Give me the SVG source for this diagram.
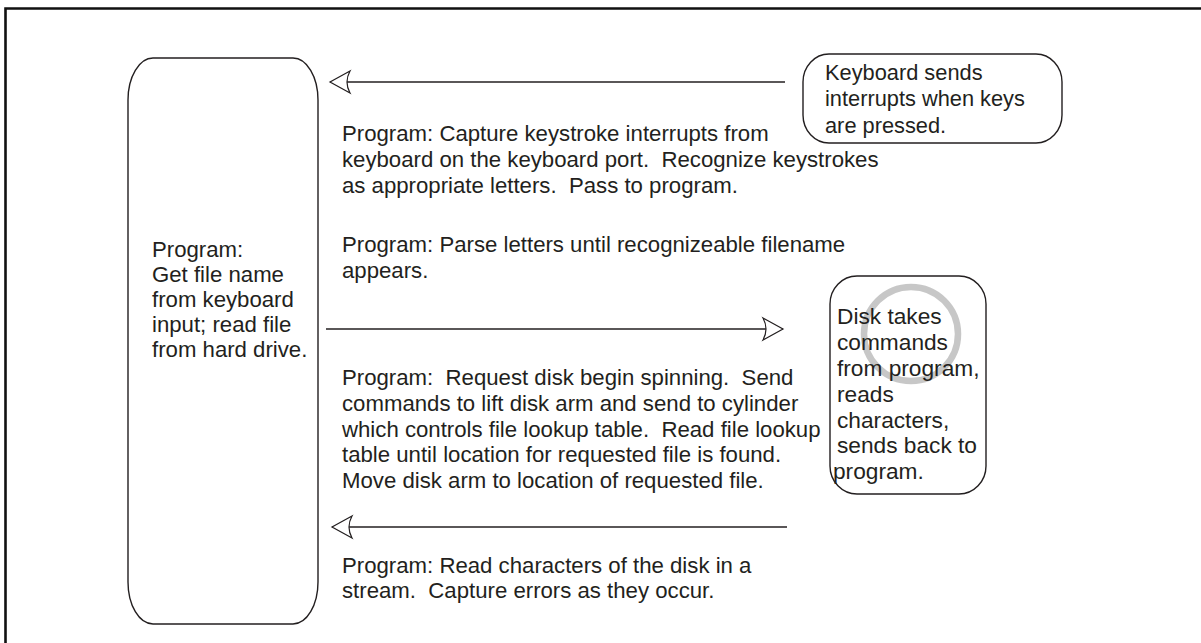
<svg xmlns="http://www.w3.org/2000/svg" width="1201" height="643" viewBox="0 0 1201 643">
<style>
text{font-family:"Liberation Sans",Arial,sans-serif;font-size:22.2px;fill:#231f20;white-space:pre}
.kb{font-size:21.8px}
.dk{font-size:22.7px}
.box{fill:#fff;stroke:#231f20;stroke-width:1.4}
.conn{stroke:#231f20;stroke-width:1.3;fill:none}
</style>
<defs>
<marker id="ah" markerUnits="userSpaceOnUse" viewBox="-23 -13 25 26" refX="0" refY="0" markerWidth="25" markerHeight="26" orient="auto" overflow="visible">
<path d="M-20,-11 L0,0 L-20,11 Q-14,0 -20,-11 Z" fill="#fff" stroke="#231f20" stroke-width="1.2" stroke-linejoin="miter"/>
</marker>
</defs>
<rect width="1201" height="643" fill="#fff"/>
<path d="M5.5,643 L5.5,8.5 L1201,8.5" fill="none" stroke="#111" stroke-width="2.6"/>
<g id="program">
<path class="box" d="M153,58 L293,58 A25,42 0 0 1 318,100 L318,582 A25,42 0 0 1 293,624 L153,624 A25,42 0 0 1 128,582 L128,100 A25,42 0 0 1 153,58 Z"/>
<text x="152" y="257">Program:</text>
<text x="152" y="282">Get file name</text>
<text x="152" y="307">from keyboard</text>
<text x="152" y="332">input; read file</text>
<text x="152" y="357">from hard drive.</text>
</g>
<g id="keyboard">
<rect class="box" x="803" y="54" width="259" height="89" rx="26" ry="28"/>
<text class="kb" x="825" y="80">Keyboard sends</text>
<text class="kb" x="825" y="106">interrupts when keys</text>
<text class="kb" x="825" y="133">are pressed.</text>
</g>
<g id="disk">
<rect class="box" x="830" y="276" width="156" height="218" rx="27" ry="28"/>
<circle cx="911" cy="334" r="47" fill="none" stroke="#bdbdbd" stroke-width="6.5" opacity="0.85"/>
<text class="dk" x="837" y="324">Disk takes</text>
<text class="dk" x="837" y="350">commands</text>
<text class="dk" x="837" y="376">from program,</text>
<text class="dk" x="837" y="402">reads</text>
<text class="dk" x="837" y="428">characters,</text>
<text class="dk" x="837" y="453">sends back to</text>
<text class="dk" x="833" y="479">program.</text>
</g>
<g id="connectors">
<line class="conn" x1="785" y1="82" x2="330" y2="82" marker-end="url(#ah)"/>
<line class="conn" x1="326" y1="329" x2="783" y2="329" marker-end="url(#ah)"/>
<line class="conn" x1="787" y1="527" x2="332" y2="527" marker-end="url(#ah)"/>
</g>
<g id="labels">
<text x="342" y="141">Program: Capture keystroke interrupts from</text>
<text x="342" y="167">keyboard on the keyboard port.  Recognize keystrokes</text>
<text x="342" y="193">as appropriate letters.  Pass to program.</text>
<text x="342" y="252">Program: Parse letters until recognizeable filename</text>
<text x="342" y="278">appears.</text>
<text x="342" y="385">Program:  Request disk begin spinning.  Send</text>
<text x="342" y="411">commands to lift disk arm and send to cylinder</text>
<text x="342" y="437">which controls file lookup table.  Read file lookup</text>
<text x="342" y="462">table until location for requested file is found.</text>
<text x="342" y="488">Move disk arm to location of requested file.</text>
<text x="342" y="573">Program: Read characters of the disk in a</text>
<text x="342" y="598">stream.  Capture errors as they occur.</text>
</g>
</svg>
